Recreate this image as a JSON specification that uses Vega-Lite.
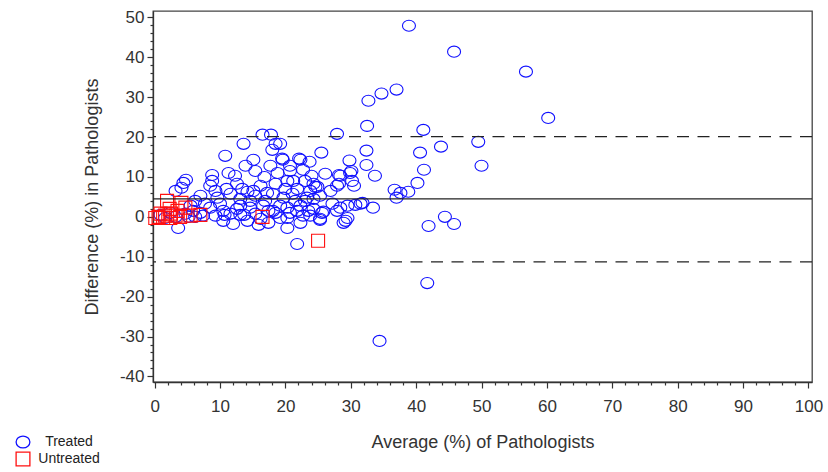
{
  "$schema": "https://vega.github.io/schema/vega-lite/v6.json",
  "width": 659,
  "height": 371,
  "autosize": {"type": "none"},
  "padding": {"left": 153, "top": 11, "right": 16, "bottom": 90},
  "background": "white",
  "config": {
    "view": {"stroke": "#444", "strokeWidth": 1.3},
    "font": "Liberation Sans"
  },
  "encoding": {
    "y": {
      "field": "diff", "type": "quantitative",
      "scale": {"domain": [-41.4, 51.6], "nice": false, "zero": false},
      "axis": {
        "values": [-40,-38,-36,-34,-32,-30,-28,-26,-24,-22,-20,-18,-16,-14,-12,-10,-8,-6,-4,-2,0,2,4,6,8,10,12,14,16,18,20,22,24,26,28,30,32,34,36,38,40,42,44,46,48,50],
        "labelExpr": "datum.value % 10 === 0 ? '' + datum.value : ''",
        "tickSize": {"condition": {"test": "datum.value % 10 === 0", "value": 6}, "value": 3},
        "tickColor": "#333", "tickWidth": 1.2,
        "domainColor": "#333", "domainWidth": 1.3,
        "grid": false,
        "labelFontSize": 17, "labelColor": "#333", "labelPadding": 3,
        "labelOverlap": false, "labelFlush": false,
        "title": "Difference (%) in Pathologists",
        "titleFontSize": 18, "titleFontWeight": "normal", "titleColor": "#333",
        "titleBaseline": "middle", "titleX": -61
      }
    }
  },
  "layer": [
    {
      "data": {"values": [
        {"avg":38.9,"diff":47.9,"group":"Treated"},{"avg":45.8,"diff":41.4,"group":"Treated"},{"avg":56.8,"diff":36.4,"group":"Treated"},{"avg":60.2,"diff":24.8,"group":"Treated"},
        {"avg":37.0,"diff":31.9,"group":"Treated"},{"avg":34.7,"diff":30.9,"group":"Treated"},{"avg":32.7,"diff":29.1,"group":"Treated"},{"avg":32.5,"diff":22.8,"group":"Treated"},
        {"avg":27.9,"diff":20.8,"group":"Treated"},{"avg":16.5,"diff":20.6,"group":"Treated"},{"avg":17.8,"diff":20.6,"group":"Treated"},{"avg":41.1,"diff":21.8,"group":"Treated"},
        {"avg":43.8,"diff":17.6,"group":"Treated"},{"avg":49.5,"diff":18.8,"group":"Treated"},{"avg":50.0,"diff":12.8,"group":"Treated"},{"avg":40.6,"diff":16.1,"group":"Treated"},
        {"avg":32.4,"diff":16.6,"group":"Treated"},{"avg":25.5,"diff":16.1,"group":"Treated"},{"avg":13.6,"diff":18.3,"group":"Treated"},{"avg":18.5,"diff":18.3,"group":"Treated"},
        {"avg":18.0,"diff":16.8,"group":"Treated"},{"avg":10.8,"diff":15.3,"group":"Treated"},{"avg":15.1,"diff":14.3,"group":"Treated"},{"avg":19.5,"diff":14.6,"group":"Treated"},
        {"avg":22.1,"diff":14.6,"group":"Treated"},{"avg":23.7,"diff":13.8,"group":"Treated"},{"avg":29.8,"diff":14.1,"group":"Treated"},{"avg":22.3,"diff":14.3,"group":"Treated"},
        {"avg":32.4,"diff":13.0,"group":"Treated"},{"avg":30.1,"diff":11.5,"group":"Treated"},{"avg":28.2,"diff":10.5,"group":"Treated"},{"avg":28.2,"diff":8.3,"group":"Treated"},
        {"avg":30.5,"diff":7.8,"group":"Treated"},{"avg":33.7,"diff":10.3,"group":"Treated"},{"avg":41.2,"diff":11.8,"group":"Treated"},{"avg":40.2,"diff":8.5,"group":"Treated"},
        {"avg":24.3,"diff":8.3,"group":"Treated"},{"avg":24.9,"diff":7.5,"group":"Treated"},{"avg":24.0,"diff":10.3,"group":"Treated"},{"avg":22.7,"diff":11.8,"group":"Treated"},
        {"avg":36.7,"diff":6.8,"group":"Treated"},{"avg":37.6,"diff":6.0,"group":"Treated"},{"avg":38.8,"diff":6.3,"group":"Treated"},{"avg":37.0,"diff":4.8,"group":"Treated"},
        {"avg":20.7,"diff":11.5,"group":"Treated"},{"avg":20.3,"diff":9.0,"group":"Treated"},{"avg":11.3,"diff":11.0,"group":"Treated"},{"avg":8.8,"diff":10.5,"group":"Treated"},
        {"avg":4.8,"diff":9.3,"group":"Treated"},{"avg":4.4,"diff":8.5,"group":"Treated"},{"avg":4.1,"diff":7.3,"group":"Treated"},{"avg":3.2,"diff":6.5,"group":"Treated"},
        {"avg":8.8,"diff":9.0,"group":"Treated"},{"avg":8.5,"diff":7.8,"group":"Treated"},{"avg":15.4,"diff":11.5,"group":"Treated"},{"avg":16.8,"diff":10.0,"group":"Treated"},
        {"avg":18.8,"diff":11.0,"group":"Treated"},{"avg":21.2,"diff":9.0,"group":"Treated"},{"avg":26.1,"diff":10.8,"group":"Treated"},{"avg":24.6,"diff":7.5,"group":"Treated"},
        {"avg":28.4,"diff":10.3,"group":"Treated"},{"avg":29.9,"diff":11.0,"group":"Treated"},{"avg":30.2,"diff":9.0,"group":"Treated"},{"avg":27.9,"diff":7.8,"group":"Treated"},
        {"avg":11.0,"diff":7.0,"group":"Treated"},{"avg":12.6,"diff":8.3,"group":"Treated"},{"avg":13.4,"diff":7.0,"group":"Treated"},{"avg":14.2,"diff":6.3,"group":"Treated"},
        {"avg":7.0,"diff":5.3,"group":"Treated"},{"avg":9.6,"diff":4.8,"group":"Treated"},{"avg":11.6,"diff":5.8,"group":"Treated"},{"avg":15.1,"diff":6.5,"group":"Treated"},
        {"avg":17.2,"diff":6.0,"group":"Treated"},{"avg":18.1,"diff":5.8,"group":"Treated"},{"avg":19.7,"diff":4.8,"group":"Treated"},{"avg":21.1,"diff":5.8,"group":"Treated"},
        {"avg":23.3,"diff":4.8,"group":"Treated"},{"avg":24.3,"diff":4.5,"group":"Treated"},{"avg":27.2,"diff":3.3,"group":"Treated"},{"avg":29.5,"diff":2.8,"group":"Treated"},
        {"avg":31.5,"diff":3.3,"group":"Treated"},{"avg":33.4,"diff":2.3,"group":"Treated"},{"avg":8.5,"diff":2.3,"group":"Treated"},{"avg":10.5,"diff":1.5,"group":"Treated"},
        {"avg":12.6,"diff":2.0,"group":"Treated"},{"avg":14.6,"diff":2.3,"group":"Treated"},{"avg":16.6,"diff":2.8,"group":"Treated"},{"avg":18.1,"diff":1.5,"group":"Treated"},
        {"avg":20.3,"diff":2.3,"group":"Treated"},{"avg":21.8,"diff":1.5,"group":"Treated"},{"avg":23.5,"diff":1.5,"group":"Treated"},{"avg":25.6,"diff":1.0,"group":"Treated"},
        {"avg":27.9,"diff":1.5,"group":"Treated"},{"avg":29.5,"diff":-0.3,"group":"Treated"},{"avg":28.9,"diff":-1.5,"group":"Treated"},{"avg":7.4,"diff":0.3,"group":"Treated"},
        {"avg":10.5,"diff":-1.0,"group":"Treated"},{"avg":12.0,"diff":-1.8,"group":"Treated"},{"avg":14.2,"diff":-1.0,"group":"Treated"},{"avg":17.4,"diff":-1.5,"group":"Treated"},
        {"avg":19.2,"diff":-0.3,"group":"Treated"},{"avg":20.3,"diff":-2.8,"group":"Treated"},{"avg":22.7,"diff":0.3,"group":"Treated"},{"avg":25.3,"diff":-0.5,"group":"Treated"},
        {"avg":3.6,"diff":-2.8,"group":"Treated"},{"avg":21.8,"diff":-6.8,"group":"Treated"},{"avg":41.9,"diff":-2.3,"group":"Treated"},{"avg":44.4,"diff":0.0,"group":"Treated"},
        {"avg":45.8,"diff":-1.8,"group":"Treated"},{"avg":41.7,"diff":-16.6,"group":"Treated"},{"avg":34.4,"diff":-31.1,"group":"Treated"},{"avg":28.4,"diff":2.3,"group":"Treated"},
        {"avg":30.7,"diff":3.0,"group":"Treated"},{"avg":31.8,"diff":3.5,"group":"Treated"},{"avg":24.3,"diff":2.0,"group":"Treated"},{"avg":25.8,"diff":1.3,"group":"Treated"},
        {"avg":20.3,"diff":-0.3,"group":"Treated"},{"avg":29.2,"diff":-1.0,"group":"Treated"},{"avg":25.3,"diff":-0.8,"group":"Treated"},{"avg":19.2,"diff":18.3,"group":"Treated"},
        {"avg":5.9,"diff":1.5,"group":"Treated"},{"avg":4.7,"diff":0.8,"group":"Treated"},{"avg":6.2,"diff":0.0,"group":"Treated"},{"avg":2.4,"diff":1.0,"group":"Treated"},
        {"avg":0.9,"diff":0.5,"group":"Treated"},{"avg":1.6,"diff":-0.3,"group":"Treated"},{"avg":3.2,"diff":0.0,"group":"Treated"},{"avg":5.2,"diff":0.0,"group":"Treated"},
        {"avg":7.0,"diff":1.0,"group":"Treated"},{"avg":9.3,"diff":0.3,"group":"Treated"},{"avg":11.6,"diff":0.8,"group":"Treated"},{"avg":13.1,"diff":0.5,"group":"Treated"},
        {"avg":15.4,"diff":0.8,"group":"Treated"},{"avg":16.2,"diff":-0.5,"group":"Treated"},{"avg":18.5,"diff":1.0,"group":"Treated"},{"avg":20.7,"diff":1.0,"group":"Treated"},
        {"avg":22.3,"diff":2.8,"group":"Treated"},{"avg":23.0,"diff":4.0,"group":"Treated"},{"avg":20.0,"diff":7.0,"group":"Treated"},{"avg":21.5,"diff":4.0,"group":"Treated"},
        {"avg":16.9,"diff":4.0,"group":"Treated"},{"avg":14.6,"diff":4.0,"group":"Treated"},{"avg":13.1,"diff":4.5,"group":"Treated"},{"avg":10.0,"diff":3.3,"group":"Treated"},
        {"avg":7.7,"diff":3.3,"group":"Treated"},{"avg":5.5,"diff":2.8,"group":"Treated"},{"avg":12.3,"diff":10.3,"group":"Treated"},{"avg":13.9,"diff":12.8,"group":"Treated"},
        {"avg":17.7,"diff":12.8,"group":"Treated"},{"avg":20.7,"diff":12.8,"group":"Treated"},{"avg":23.0,"diff":9.0,"group":"Treated"},{"avg":25.3,"diff":5.3,"group":"Treated"},
        {"avg":26.9,"diff":6.5,"group":"Treated"},{"avg":18.5,"diff":8.3,"group":"Treated"},{"avg":16.2,"diff":7.8,"group":"Treated"},{"avg":21.8,"diff":7.0,"group":"Treated"},
        {"avg":23.8,"diff":6.5,"group":"Treated"},{"avg":19.2,"diff":2.8,"group":"Treated"},{"avg":17.4,"diff":1.5,"group":"Treated"},{"avg":15.4,"diff":5.3,"group":"Treated"},
        {"avg":13.1,"diff":2.8,"group":"Treated"},{"avg":9.3,"diff":6.5,"group":"Treated"},{"avg":6.2,"diff":4.0,"group":"Treated"},{"avg":22.3,"diff":-1.5,"group":"Treated"},
        {"avg":23.8,"diff":0.3,"group":"Treated"},{"avg":15.9,"diff":-2.0,"group":"Treated"},{"avg":13.7,"diff":0.5,"group":"Treated"},{"avg":10.7,"diff":0.5,"group":"Treated"},
        {"avg":19.6,"diff":14.3,"group":"Treated"},
        {"avg":25.0,"diff":-6.0,"group":"Untreated"},{"avg":16.5,"diff":0.0,"group":"Untreated"},{"avg":1.9,"diff":4.0,"group":"Untreated"},{"avg":4.1,"diff":3.5,"group":"Untreated"},
        {"avg":4.7,"diff":2.3,"group":"Untreated"},{"avg":5.5,"diff":0.3,"group":"Untreated"},{"avg":2.5,"diff":0.8,"group":"Untreated"},{"avg":0.1,"diff":-0.3,"group":"Untreated"},
        {"avg":0.9,"diff":0.8,"group":"Untreated"},{"avg":3.9,"diff":0.0,"group":"Untreated"},{"avg":1.6,"diff":0.3,"group":"Untreated"},{"avg":3.2,"diff":0.3,"group":"Untreated"},
        {"avg":0.6,"diff":0.0,"group":"Untreated"},{"avg":1.3,"diff":-0.3,"group":"Untreated"},{"avg":2.4,"diff":-0.3,"group":"Untreated"},{"avg":7.0,"diff":0.5,"group":"Untreated"},
        {"avg":2.3,"diff":2.0,"group":"Untreated"},{"avg":3.5,"diff":1.5,"group":"Untreated"}
      ]},
      "mark": {"type": "point", "filled": false, "strokeWidth": 1.1, "size": 169, "opacity": 1},
      "encoding": {
        "x": {
          "field": "avg", "type": "quantitative",
          "scale": {"domain": [-0.25, 100.55], "nice": false, "zero": false},
          "axis": {
            "values": [0,2,4,6,8,10,12,14,16,18,20,22,24,26,28,30,32,34,36,38,40,42,44,46,48,50,52,54,56,58,60,62,64,66,68,70,72,74,76,78,80,82,84,86,88,90,92,94,96,98,100],
            "labelExpr": "datum.value % 10 === 0 ? '' + datum.value : ''",
            "tickSize": {"condition": {"test": "datum.value % 10 === 0", "value": 6}, "value": 3},
            "tickColor": "#333", "tickWidth": 1.2,
            "domainColor": "#333", "domainWidth": 1.3,
            "grid": false,
            "labelFontSize": 17, "labelColor": "#333", "labelPadding": 10,
            "labelOverlap": false, "labelFlush": false,
            "title": "Average (%) of Pathologists",
            "titleFontSize": 18, "titleFontWeight": "normal", "titleColor": "#333",
            "titleBaseline": "alphabetic", "titleY": 65
          }
        },
        "color": {
          "field": "group", "type": "nominal",
          "scale": {"domain": ["Treated", "Untreated"], "range": ["#1010FF", "#FF1010"]},
          "legend": {
            "orient": "none", "legendX": -138, "legendY": 423, "title": null,
            "padding": 0, "rowPadding": -3, "symbolSize": 190, "symbolStrokeWidth": 1.3,
            "labelFontSize": 14, "labelColor": "#222", "labelAlign": "center", "labelOffset": 38
          }
        },
        "shape": {
          "field": "group", "type": "nominal",
          "scale": {"domain": ["Treated", "Untreated"], "range": ["M-1,0A1,0.85,0,1,1,1,0A1,0.85,0,1,1,-1,0Z", "square"]}
        }
      }
    },
    {
      "data": {"values": [{"diff": 20.1}, {"diff": -11.3}]},
      "mark": {"type": "rule", "color": "#222", "strokeWidth": 1.2, "strokeDash": [12, 8.5]},
      "encoding": {}
    },
    {
      "data": {"values": [{"diff": 4.5}]},
      "mark": {"type": "rule", "color": "#222", "strokeWidth": 1.2},
      "encoding": {}
    }
  ]
}
